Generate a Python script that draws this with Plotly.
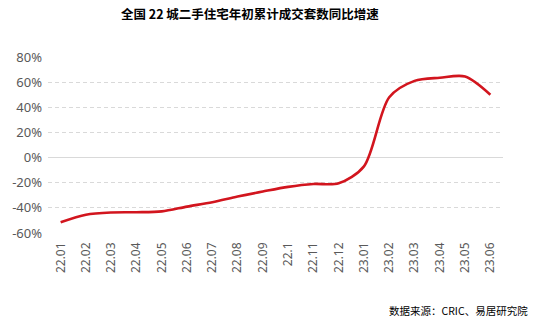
import plotly.graph_objects as go

categories = ["22.01", "22.02", "22.03", "22.04", "22.05", "22.06", "22.07", "22.08", "22.09",
              "22.1", "22.11", "22.12", "23.01", "23.02", "23.03", "23.04", "23.05", "23.06"]
yoy = [-51.5, -45.5, -43.7, -43.5, -42.8, -39.0, -35.5, -31.0, -27.0,
       -23.3, -21.0, -20.5, -7.0, 48.0, 61.0, 63.5, 64.5, 50.0]
ytick_vals = [-60, -40, -20, 0, 20, 40, 60, 80]
ytick_text = ["-60%", "-40%", "-20%", "0%", "20%", "40%", "60%", "80%"]

title = "全国 22 城二手住宅年初累计成交套数同比增速"
source = "数据来源：CRIC、易居研究院"

fig = go.Figure()
fig.add_trace(go.Scatter(
    x=categories, y=yoy, mode="lines",
    line=dict(color="#d2151e", width=2.6, shape="spline", smoothing=0.85),
    hoverinfo="skip", showlegend=False,
))

fig.update_layout(
    width=534, height=323,
    margin=dict(l=35, r=31, t=57, b=90),
    plot_bgcolor="white", paper_bgcolor="white",
    title=dict(text="<b>" + title + "</b>", x=0.468, xanchor="center",
               y=0.954, yanchor="middle", xref="container", yref="container",
               font=dict(family="Noto Sans CJK SC", size=12.5, color="#000000")),
    xaxis=dict(
        type="category", range=[-0.5, len(categories) - 0.5],
        showgrid=False, showline=False, zeroline=False, ticks="",
        tickangle=-90, ticklabelstandoff=6,
        tickfont=dict(family="Noto Sans", size=12, color="#595959"),
    ),
    yaxis=dict(
        range=[-60, 80], tickvals=ytick_vals, ticktext=ytick_text,
        showgrid=True, gridcolor="#d9d9d9", griddash="4px,3px", gridwidth=1,
        zeroline=True, zerolinecolor="#d9d9d9", zerolinewidth=1.3,
        showline=False, ticks="", ticklabelstandoff=5,
        tickfont=dict(family="Noto Sans", size=13, color="#595959"),
    ),
    annotations=[dict(
        text=source, xref="paper", yref="paper", x=1, xshift=27, xanchor="right",
        y=-0.443, yanchor="middle", showarrow=False,
        font=dict(family="Noto Sans CJK SC", size=10.5, color="#000000"),
    )],
)

fig.write_html("out.html")
